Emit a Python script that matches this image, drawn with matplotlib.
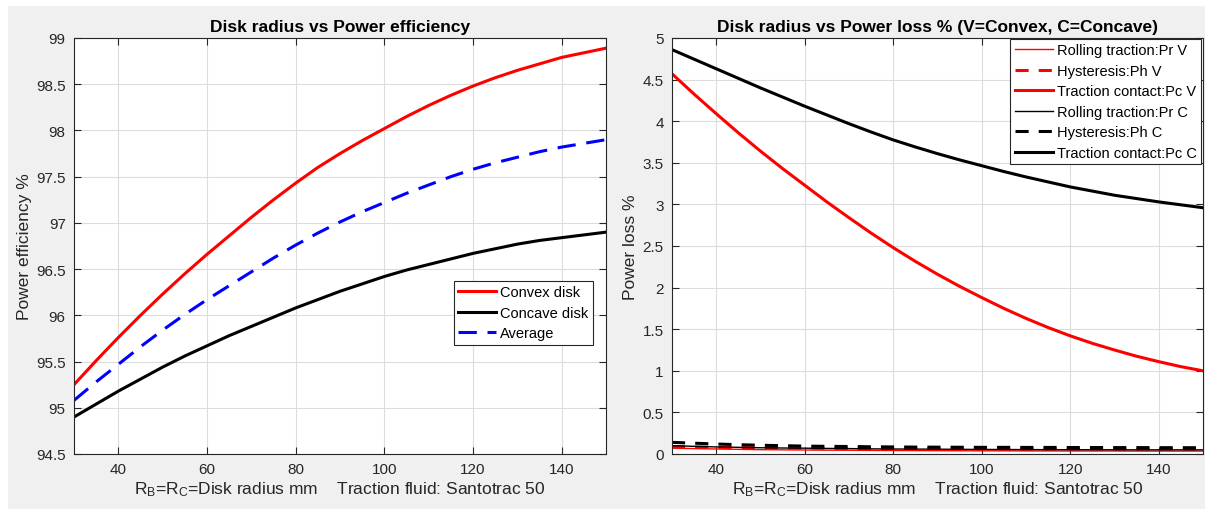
import matplotlib
matplotlib.use("Agg")
import matplotlib.pyplot as plt
from matplotlib.ticker import FuncFormatter
from matplotlib.patches import Rectangle

plt.rcParams['font.family'] = ['Liberation Sans', 'DejaVu Sans']
plt.rcParams['mathtext.fontset'] = 'custom'
plt.rcParams['mathtext.rm'] = 'Liberation Sans'
plt.rcParams['mathtext.it'] = 'Liberation Sans:italic'

# ---------------- data ----------------
radius = [30, 35, 40, 45, 50, 55, 60, 65, 70, 75, 80, 85, 90,
          95, 100, 105, 110, 115, 120, 125, 130, 135, 140, 145, 150]

eff_convex = [95.25, 95.51, 95.76, 96.00, 96.23, 96.45, 96.66, 96.86, 97.06, 97.25, 97.43, 97.60, 97.75,
              97.89, 98.02, 98.15, 98.27, 98.38, 98.48, 98.57, 98.65, 98.72, 98.79, 98.84, 98.89]
eff_concave = [94.90, 95.04, 95.18, 95.31, 95.44, 95.56, 95.67, 95.78, 95.88, 95.98, 96.08, 96.17, 96.26,
               96.34, 96.42, 96.49, 96.55, 96.61, 96.67, 96.72, 96.77, 96.81, 96.84, 96.87, 96.90]
eff_average = [95.08, 95.28, 95.47, 95.66, 95.84, 96.01, 96.17, 96.32, 96.47, 96.62, 96.76, 96.89, 97.01,
               97.12, 97.22, 97.32, 97.41, 97.50, 97.58, 97.65, 97.71, 97.77, 97.82, 97.86, 97.90]

pr_v = [0.070, 0.065, 0.060, 0.056, 0.052, 0.050, 0.048, 0.046, 0.045, 0.043, 0.042, 0.041, 0.040,
        0.039, 0.038, 0.038, 0.037, 0.037, 0.036, 0.036, 0.036, 0.035, 0.035, 0.035, 0.035]
ph_v = [0.090, 0.085, 0.080, 0.077, 0.074, 0.072, 0.070, 0.068, 0.067, 0.066, 0.065, 0.064, 0.063,
        0.062, 0.062, 0.061, 0.061, 0.061, 0.061, 0.060, 0.060, 0.060, 0.060, 0.060, 0.060]
pc_v = [4.57, 4.325, 4.09, 3.86, 3.64, 3.43, 3.23, 3.03, 2.84, 2.655, 2.48, 2.315, 2.16,
        2.015, 1.88, 1.75, 1.63, 1.52, 1.42, 1.33, 1.25, 1.175, 1.11, 1.05, 1.00]
pr_c = [0.100, 0.092, 0.085, 0.080, 0.075, 0.072, 0.070, 0.067, 0.065, 0.062, 0.060, 0.059, 0.058,
        0.056, 0.055, 0.054, 0.053, 0.052, 0.052, 0.051, 0.051, 0.050, 0.050, 0.050, 0.050]
ph_c = [0.140, 0.130, 0.120, 0.112, 0.105, 0.100, 0.095, 0.092, 0.090, 0.087, 0.085, 0.083, 0.082,
        0.081, 0.080, 0.080, 0.079, 0.079, 0.078, 0.078, 0.077, 0.077, 0.076, 0.076, 0.075]
pc_c = [4.86, 4.745, 4.63, 4.515, 4.40, 4.29, 4.18, 4.075, 3.97, 3.87, 3.775, 3.69, 3.61,
        3.535, 3.465, 3.395, 3.33, 3.27, 3.21, 3.16, 3.11, 3.07, 3.03, 2.995, 2.96]

x_ticks = [40, 60, 80, 100, 120, 140]
eff_ticks = [94.5, 95, 95.5, 96, 96.5, 97, 97.5, 98, 98.5, 99]
loss_ticks = [0, 0.5, 1, 1.5, 2, 2.5, 3, 3.5, 4, 4.5, 5]

# ---------------- figure ----------------
W, H = 1205, 510
fig = plt.figure(figsize=(W / 100, H / 100), dpi=100)
fig.patch.set_facecolor('white')
fig.patches.append(Rectangle((8 / W, 0), 1, 1 - 7 / H, transform=fig.transFigure,
                             facecolor='#f0f0f0', edgecolor='none', zorder=-10))

TXT = '#262626'

def px_axes(x0, x1, ytop, ybot):
    return fig.add_axes([x0 / W, (H - ybot) / H, (x1 - x0) / W, (ybot - ytop) / H])

def style(ax):
    ax.set_facecolor('white')
    ax.grid(True, color='#dcdcdc', linewidth=0.8)
    ax.set_axisbelow(True)
    for s in ax.spines.values():
        s.set_color(TXT)
        s.set_linewidth(0.8)
    ax.tick_params(direction='in', top=True, right=True, length=5, width=0.8,
                   colors=TXT, labelsize=11, pad=6)
    ax.set_xlim(30, 150)
    ax.set_xticks(x_ticks)

xlabel_txt = r'R$_\mathrm{B}$=R$_\mathrm{C}$=Disk radius mm    Traction fluid: Santotrac 50'
gfmt = FuncFormatter(lambda v, p: ('%g' % v))
LBL = 12.5

# ---- left panel ----
ax1 = px_axes(74, 606, 39, 455)
style(ax1)
lw = 2.2
ax1.plot(radius, eff_convex, color='#ff0000', lw=lw, label='Convex disk')
ax1.plot(radius, eff_concave, color='black', lw=lw, label='Concave disk')
ax1.plot(radius, eff_average, color='#0000ff', lw=lw, dashes=(6, 3.5), label='Average')
ax1.set_ylim(94.5, 99)
ax1.set_yticks(eff_ticks)
ax1.yaxis.set_major_formatter(gfmt)
ax1.set_title('Disk radius vs Power efficiency', fontsize=LBL, fontweight='bold',
              color='black', pad=5)
ax1.set_ylabel('Power efficiency %', fontsize=LBL, color=TXT, labelpad=3)
ax1.set_xlabel(xlabel_txt, fontsize=LBL, color=TXT, labelpad=2)
leg1 = ax1.legend(loc='upper right', bbox_to_anchor=(0.9756, 0.416), borderaxespad=0,
                  fontsize=10.5, frameon=True, fancybox=False, handlelength=2.6,
                  handletextpad=0.3, labelspacing=0.45, borderpad=0.3)
leg1.get_frame().set_edgecolor(TXT)
leg1.get_frame().set_linewidth(0.8)
leg1.get_frame().set_alpha(1)

# ---- right panel ----
ax2 = px_axes(672, 1203, 39, 455)
style(ax2)
ax2.plot(radius, pr_v, color='#ff0000', lw=1.0, label='Rolling traction:Pr V')
ax2.plot(radius, ph_v, color='#ff0000', lw=lw, dashes=(4.3, 3.3), label='Hysteresis:Ph V')
ax2.plot(radius, pc_v, color='#ff0000', lw=lw, label='Traction contact:Pc V')
ax2.plot(radius, pr_c, color='black', lw=1.0, label='Rolling traction:Pr C')
ax2.plot(radius, ph_c, color='black', lw=lw, dashes=(4.3, 3.3), label='Hysteresis:Ph C')
ax2.plot(radius, pc_c, color='black', lw=lw, label='Traction contact:Pc C')
ax2.set_ylim(0, 5)
ax2.set_yticks(loss_ticks)
ax2.yaxis.set_major_formatter(gfmt)
ax2.set_title('Disk radius vs Power loss % (V=Convex, C=Concave)', fontsize=LBL,
              fontweight='bold', color='black', pad=5)
ax2.set_ylabel('Power loss %', fontsize=LBL, color=TXT, labelpad=3)
ax2.set_xlabel(xlabel_txt, fontsize=LBL, color=TXT, labelpad=2)
leg2 = ax2.legend(loc='upper right', bbox_to_anchor=(0.997, 0.998), borderaxespad=0,
                  fontsize=10.5, frameon=True, fancybox=False, handlelength=2.6,
                  handletextpad=0.3, labelspacing=0.45, borderpad=0.3)
leg2.get_frame().set_edgecolor(TXT)
leg2.get_frame().set_linewidth(0.8)
leg2.get_frame().set_alpha(1)

fig.savefig('out.png', dpi=100, facecolor=fig.get_facecolor())
